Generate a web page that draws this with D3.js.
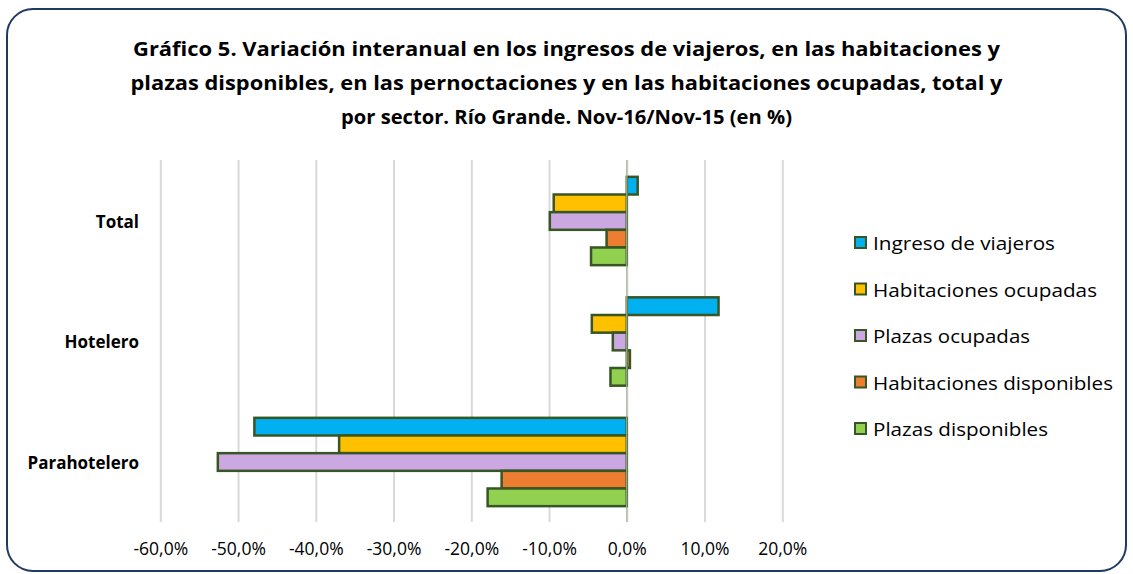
<!DOCTYPE html>
<html><head><meta charset="utf-8">
<script src="https://cdn.jsdelivr.net/npm/d3@7"></script>
<style>body{margin:0;background:#fff}svg{display:block}</style>
</head><body>
<svg id="c" width="1133" height="574"></svg>
<script>
const categories = ["Total", "Hotelero", "Parahotelero"];
const seriesNames = ["Ingreso de viajeros", "Habitaciones ocupadas", "Plazas ocupadas", "Habitaciones disponibles", "Plazas disponibles"];
const ingresoViajeros = [1.4, 11.8, -47.9];
const habitacionesOcupadas = [-9.4, -4.5, -37.0];
const plazasOcupadas = [-9.9, -1.8, -52.6];
const habitacionesDisponibles = [-2.6, 0.4, -16.1];
const plazasDisponibles = [-4.6, -2.1, -17.9];
const seriesValues = [ingresoViajeros, habitacionesOcupadas, plazasOcupadas, habitacionesDisponibles, plazasDisponibles];
const colors = ["#00B0F0", "#FFC000", "#CCA8E2", "#ED7D31", "#92D050"];
const tickValues = [-60, -50, -40, -30, -20, -10, 0, 10, 20];
const titleLines = [
  "Gráfico 5. Variación interanual en los ingresos de viajeros, en las habitaciones y",
  "plazas disponibles, en las pernoctaciones y en las habitaciones ocupadas, total y",
  "por sector. Río Grande. Nov-16/Nov-15 (en %)"
];

const svg = d3.select("#c");
const font = "'Open Sans', sans-serif";

svg.append("rect").attr("x", 7).attr("y", 9).attr("width", 1119).attr("height", 562)
  .attr("rx", 26).attr("ry", 26).attr("fill", "#fff").attr("stroke", "#1F3864").attr("stroke-width", 2);

// title
const titleY = [48, 82, 116];
const titleW = [867, 872, 451];
titleLines.forEach((t, i) => {
  svg.append("text").attr("x", 566.5).attr("y", titleY[i]).attr("text-anchor", "middle")
    .attr("dominant-baseline", "central")
    .attr("font-family", font).attr("font-weight", "bold").attr("font-size", 19.5)
    .attr("fill", "#000")
    .attr("textLength", titleW[i]).attr("lengthAdjust", "spacingAndGlyphs")
    .text(t);
});

const x = d3.scaleLinear().domain([-60, 20]).range([160.3, 782.3]);
const y = d3.scaleBand().domain(categories).range([160.75, 522.25]).paddingInner(0.267).paddingOuter(0.1335);
const yS = d3.scaleBand().domain(seriesNames).range([0, y.bandwidth()]);

const loc = d3.formatLocale({decimal: ",", thousands: ".", grouping: [3], currency: ["", "€"], minus: "-"});
const fmt = loc.format(".1f");

// gridlines
const grid = svg.append("g").attr("transform", "translate(0,522)")
  .call(d3.axisBottom(x).tickValues(tickValues).tickSize(-362).tickFormat(""));
grid.select(".domain").remove();
grid.selectAll(".tick line").attr("stroke", "#D9D9D9").attr("stroke-width", 2);

// tick labels
const ax = svg.append("g").attr("transform", "translate(0,540)")
  .call(d3.axisBottom(x).tickValues(tickValues).tickSize(0).tickFormat(d => fmt(d) + "%"));
ax.select(".domain").remove();
ax.selectAll("text").attr("font-family", font).attr("font-size", 17.5).attr("fill", "#000");

// bars
const bars = svg.append("g");
seriesValues.forEach((vals, si) => {
  bars.selectAll(null).data(vals).enter().append("rect")
    .attr("x", d => x(Math.min(0, d)))
    .attr("width", d => Math.abs(x(d) - x(0)))
    .attr("y", (d, ci) => y(categories[ci]) + yS(seriesNames[si]))
    .attr("height", yS.bandwidth())
    .attr("fill", colors[si])
    .attr("stroke", "#375623").attr("stroke-width", 2.5);
});

// zero axis line
svg.append("line").attr("x1", x(0)).attr("x2", x(0)).attr("y1", 160).attr("y2", 522)
  .attr("stroke", "#A9B79A").attr("stroke-width", 1.2);

// category labels
svg.append("g").selectAll("text").data(categories).enter().append("text")
  .attr("x", 139).attr("y", d => y(d) + y.bandwidth() / 2)
  .attr("text-anchor", "end").attr("dominant-baseline", "central")
  .attr("font-family", font).attr("font-weight", "bold").attr("font-size", 17).attr("fill", "#000")
  .text(d => d);

// legend
const leg = svg.append("g");
const legY = [243, 289.5, 336, 382.5, 429];
const legW = [182, 224, 157, 240, 175];
seriesNames.forEach((n, i) => {
  leg.append("rect").attr("x", 855).attr("y", legY[i] - 6).attr("width", 11).attr("height", 11)
    .attr("fill", colors[i]).attr("stroke", "#375623").attr("stroke-width", 2);
  leg.append("text").attr("x", 873).attr("y", legY[i]).attr("dominant-baseline", "central")
    .attr("font-family", font).attr("font-size", 19).attr("fill", "#000")
    .attr("textLength", legW[i]).attr("lengthAdjust", "spacingAndGlyphs").text(n);
});
</script>
</body></html>
